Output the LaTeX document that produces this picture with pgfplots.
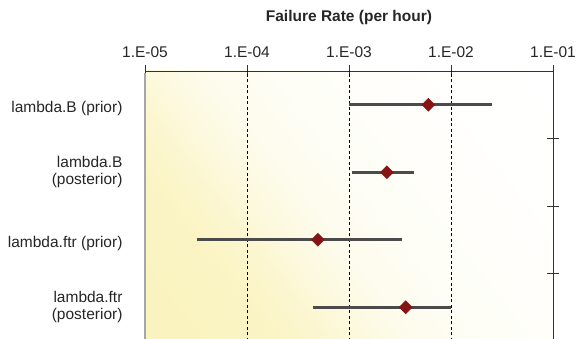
\documentclass[border=0pt]{standalone}
\usepackage{pgfplots}
\pgfplotsset{compat=1.18}
\usepackage{fontspec}
\setmainfont{Liberation Sans}
\definecolor{bgY}{RGB}{250,243,190}
\definecolor{dkred}{RGB}{135,20,20}
\definecolor{barcol}{RGB}{75,75,75}
\pgfdeclarehorizontalshading{bgshade}{100bp}{color(0bp)=(bgY); color(16bp)=(bgY); color(30bp)=(bgY!90!white); color(36bp)=(bgY!70!white); color(40bp)=(bgY!48!white); color(46bp)=(bgY!28!white); color(53bp)=(bgY!14!white); color(62bp)=(bgY!8!white); color(75bp)=(bgY!2!white); color(85bp)=(white); color(100bp)=(white)}
\begin{document}
\begin{tikzpicture}
% plot-area background gradient
\shade[shading=bgshade, shading angle=38] (145pt,-2pt) rectangle (553pt,268pt);
\begin{axis}[
  at={(145pt,-2pt)}, anchor=south west,
  scale only axis, width=408pt, height=270pt,
  xmode=log, xmin=1e-5, xmax=1e-1, ymin=0, ymax=4,
  axis line style={black!80, line width=0.9pt},
  xtick pos=right, xticklabel pos=right,
  ytick pos=right, yticklabel pos=right,
  xtick={1e-5,1e-4,1e-3,1e-2,1e-1},
  xticklabels={1.E-05,1.E-04,1.E-03,1.E-02,1.E-01},
  xminorticks=false,
  ytick={1,2,3},
  yticklabels={},
  tick align=center,
  major tick length=12pt,
  tick style={black!80, line width=0.9pt},
  xticklabel style={font=\fontsize{15.5}{17}\selectfont, text=black!85, yshift=4pt},
  extra x ticks={1e-4,1e-3,1e-2},
  extra x tick labels={},
  extra x tick style={grid=major, major tick length=0pt},
  major grid style={black, line width=0.8pt, dash pattern=on 3pt off 2.5pt},
  clip=false,
]
% left border (covers the box line)
\addplot[white, line width=1.6pt] coordinates {(1e-5,0) (1e-5,3.97)};
\addplot[black!35, line width=1.4pt] coordinates {(1e-5,0) (1e-5,3.97)};
% intervals
\addplot[barcol, line width=2.6pt] coordinates {(1.0e-3,3.5) (2.5e-2,3.5)};
\addplot[barcol, line width=2.6pt] coordinates {(1.07e-3,2.5) (4.3e-3,2.5)};
\addplot[barcol, line width=2.6pt] coordinates {(3.2e-5,1.5) (3.3e-3,1.5)};
\addplot[barcol, line width=2.6pt] coordinates {(4.4e-4,0.5) (1.0e-2,0.5)};
% point estimates
\addplot[only marks, mark=square*, mark size=4.6pt, mark options={rotate=45, fill=dkred, draw=dkred}]
  coordinates {(6.0e-3,3.5) (2.35e-3,2.5) (4.95e-4,1.5) (3.6e-3,0.5)};
% labels
\node[font=\bfseries\fontsize{15.5}{17}\selectfont, text=black!85] at (rel axis cs:0.5,1) [yshift=54pt] {Failure Rate (per hour)};
\begin{scope}[every node/.style={anchor=east, align=right, font=\fontsize{15.5}{17}\selectfont, text=black!85, xshift=-19pt}]
\node at (axis cs:1e-5,3.45) {lambda.B (prior)};
\node at (axis cs:1e-5,2.5) {lambda.B\\(posterior)};
\node at (axis cs:1e-5,1.45) {lambda.ftr (prior)};
\node at (axis cs:1e-5,0.5) {lambda.ftr\\(posterior)};
\end{scope}
\end{axis}
\pgfresetboundingbox
\path[use as bounding box] (0,0) rectangle (576pt,339pt);
\end{tikzpicture}
\end{document}
